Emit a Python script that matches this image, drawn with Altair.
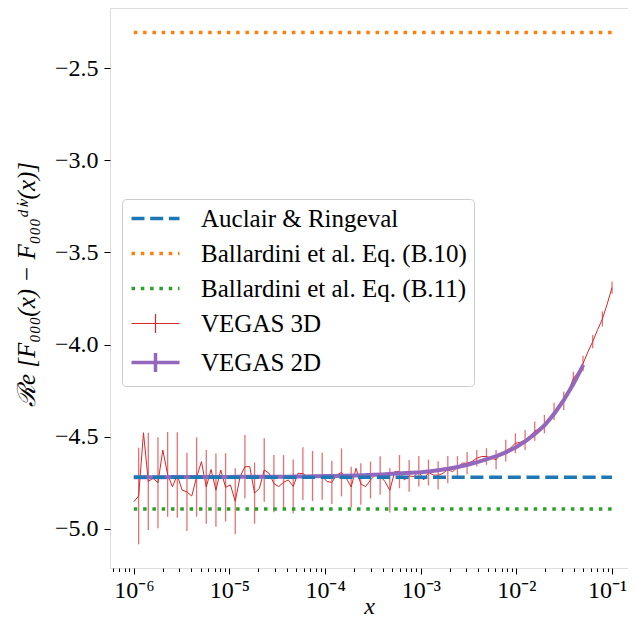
import altair as alt
import numpy as np
import pandas as pd

# ---------------- data ----------------
series_names = ["Auclair & Ringeval", "Ballardini et al. Eq. (B.10)",
                "Ballardini et al. Eq. (B.11)", "VEGAS 3D", "VEGAS 2D"]
series_colors = ["#1f77b4", "#ff7f0e", "#2ca02c", "#d62728", "#9467bd"]

ref_x = [1e-6, 1e-1]
auclair_y = -4.720
b10_y = -2.308
b11_y = -4.892

# VEGAS 3D: 100 log-spaced points from 1e-6 to 1e-1
x3d = np.logspace(-6, -1, 100)
y3d = [
    -4.852, -4.821, -4.478, -4.742, -4.725, -4.749, -4.572, -4.704, -4.771, -4.707,
    -4.789, -4.799, -4.821, -4.718, -4.635, -4.772, -4.677, -4.789, -4.680, -4.774,
    -4.761, -4.850, -4.716, -4.662, -4.662, -4.805, -4.780, -4.680, -4.698, -4.754,
    -4.770, -4.747, -4.734, -4.769, -4.698, -4.700, -4.716, -4.713, -4.716, -4.714,
    -4.743, -4.747, -4.707, -4.693, -4.725, -4.772, -4.671, -4.756, -4.770, -4.734,
    -4.707, -4.710, -4.743, -4.790, -4.689, -4.689, -4.734, -4.712, -4.716, -4.687,
    -4.734, -4.694, -4.707, -4.709, -4.698, -4.678, -4.689, -4.665, -4.643, -4.643,
    -4.634, -4.616, -4.607, -4.607, -4.616, -4.624, -4.590, -4.575, -4.560, -4.535,
    -4.530, -4.517, -4.495, -4.469, -4.455, -4.431, -4.400, -4.362, -4.335, -4.304,
    -4.250, -4.183, -4.150, -4.103, -4.040, -3.984, -3.920, -3.861, -3.780, -3.691,
]
# error bars drawn on every second point (odd indices)
err3d_odd = [
    0.262, 0.264, 0.247, 0.230, 0.232, 0.212, 0.215, 0.200, 0.199, 0.185,
    0.179, 0.172, 0.166, 0.172, 0.155, 0.148, 0.146, 0.143, 0.136, 0.128,
    0.117, 0.130, 0.110, 0.112, 0.100, 0.104, 0.120, 0.090, 0.086, 0.083,
    0.070, 0.077, 0.074, 0.060, 0.060, 0.045, 0.045, 0.052, 0.059, 0.054,
    0.054, 0.052, 0.050, 0.047, 0.050, 0.036, 0.042, 0.036, 0.041, 0.033,
]

# VEGAS 2D: log-spaced from 1e-6 to ~5e-2
x2d = np.logspace(-6, -1.3, 48)
y2d = [
    -4.719, -4.719, -4.719, -4.719, -4.718, -4.718, -4.718, -4.718, -4.718, -4.718,
    -4.718, -4.717, -4.717, -4.717, -4.717, -4.716, -4.716, -4.715, -4.715, -4.714,
    -4.713, -4.712, -4.711, -4.710, -4.708, -4.706, -4.704, -4.701, -4.698, -4.695,
    -4.692, -4.687, -4.680, -4.672, -4.662, -4.650, -4.636, -4.620, -4.603, -4.582,
    -4.555, -4.522, -4.482, -4.435, -4.372, -4.297, -4.210, -4.110,
]

y_ticks = [-5.0, -4.5, -4.0, -3.5, -3.0, -2.5]
x_major = [1e-6, 1e-5, 1e-4, 1e-3, 1e-2, 1e-1]
x_lo, x_hi = 10 ** -6.249, 10 ** -0.833
x_minor = [k * 10.0 ** e for e in range(-7, 0) for k in range(2, 10)
           if x_lo <= k * 10.0 ** e <= x_hi]

# ---------------- tables ----------------
err_full = [None] * len(y3d)
for k, e in enumerate(err3d_odd):
    err_full[2 * k + 1] = e
df3d = pd.DataFrame({"x": x3d, "y": y3d, "err": err_full, "series": "VEGAS 3D"})
df2d = pd.DataFrame({"x": x2d, "y": y2d, "series": "VEGAS 2D"})
df_auc = pd.DataFrame({"x": ref_x, "y": [auclair_y] * 2, "series": series_names[0]})
df_b10 = pd.DataFrame({"x": ref_x, "y": [b10_y] * 2, "series": series_names[1]})
df_b11 = pd.DataFrame({"x": ref_x, "y": [b11_y] * 2, "series": series_names[2]})

# ---------------- styling ----------------
FONT = "Liberation Serif"

xscale = alt.Scale(type="log", domain=[x_lo, x_hi], nice=False)
yscale = alt.Scale(domain=[-5.2115, -2.1746], nice=False, zero=False)

is_major = "abs(log(datum.value)/LN10 - round(log(datum.value)/LN10)) < 0.001"
xaxis = alt.Axis(
    values=x_major + x_minor,
    labelExpr=is_major + " ? '10' + ['⁻⁶','⁻⁵','⁻⁴','⁻³','⁻²','⁻¹'][round(log(datum.value)/LN10) + 6] : ''",
    tickSize={"condition": {"test": is_major, "value": 6}, "value": 3.5},
    labelOffset={"condition": {"test": "datum.value > 0.05", "value": -5}, "value": 0},
    tickColor="black", tickWidth=1, grid=False, domain=False,
    labelFont=FONT, labelFontSize=24, labelColor="black", labelPadding=4,
    labelOverlap=False, labelFlush=False,
    title="x", titleFont=FONT, titleFontSize=24, titleFontStyle="italic",
    titleFontWeight="normal", titleColor="black",
    titleY=45, titleBaseline="alphabetic",
)
yaxis = alt.Axis(
    values=y_ticks,
    labelExpr="replace(format(datum.value, '.1f'), '-', '−')",
    tickSize=6, tickColor="black", tickWidth=1, grid=False, domain=False,
    labelFont=FONT, labelFontSize=24, labelColor="black", labelPadding=6,
    title="ℛe [F₀₀₀(x) − F₀₀₀ᵈⁱᵛ(x)]", titleFont=FONT, titleFontSize=25,
    titleFontStyle="italic", titleFontWeight="normal", titleColor="black",
    titleX=-84, titleY=276, titleAngle=270, titleAlign="center", titleBaseline="middle",
)

legend = alt.Legend(
    title=None, orient="none", legendX=12, legendY=191,
    symbolSize=400,
    symbolType=alt.ExprRef(expr="indexof(datum.value, 'VEGAS') >= 0 ? 'M-1,0H3.8M1.4,-0.95V0.95' : 'M-1,0H3.8'"),
    symbolDash=alt.ExprRef(expr="datum.value == 'Auclair & Ringeval' ? [13, 5.7] : (indexof(datum.value, 'Ballardini') >= 0 ? [3.5, 5.8] : [1, 0])"),
    symbolStrokeWidth=alt.ExprRef(expr="datum.value == 'VEGAS 3D' ? 1.2 : 3.5"),
    symbolFillColor="transparent", symbolOpacity=1,
    labelFont=FONT, labelFontSize=25, labelColor="black", labelOffset=47,
    labelLimit=600, rowPadding=9, padding=7,
    fillColor="white", strokeColor="#cccccc", cornerRadius=4,
)

color = alt.Color("series:N", scale=alt.Scale(domain=series_names, range=series_colors),
                  legend=legend)
X = alt.X("x:Q", scale=xscale, axis=xaxis)
Y = alt.Y("y:Q", scale=yscale, axis=yaxis)

err_layer = alt.Chart(df3d).transform_filter("isValid(datum.err)").transform_calculate(
    lo="datum.y - datum.err", hi="datum.y + datum.err"
).mark_rule(strokeWidth=1.3, opacity=0.65).encode(
    x=X, y=alt.Y("lo:Q", scale=yscale, axis=yaxis), y2="hi:Q", color=color
)
red_line = alt.Chart(df3d).mark_line(strokeWidth=1).encode(x=X, y=Y, color=color)
purple_line = alt.Chart(df2d).mark_line(strokeWidth=4).encode(x=X, y=Y, color=color)
auc_line = alt.Chart(df_auc).mark_line(strokeWidth=3.5, strokeDash=[13, 5.7]).encode(x=X, y=Y, color=color)
b10_line = alt.Chart(df_b10).mark_line(strokeWidth=3.5, strokeDash=[3.5, 5.8]).encode(x=X, y=Y, color=color)
b11_line = alt.Chart(df_b11).mark_line(strokeWidth=3.5, strokeDash=[3.5, 5.8]).encode(x=X, y=Y, color=color)

chart = alt.layer(
    err_layer, red_line, purple_line, auc_line, b10_line, b11_line
).properties(
    width=518, height=560,
    autosize=alt.AutoSizeParams(type="none"),
    padding={"left": 102, "top": 0, "right": 0, "bottom": 52},
).configure_view(
    stroke="black", strokeWidth=1.2
).configure(background="white")

chart.save("out.html", embed_options={"renderer": "svg", "actions": False})
